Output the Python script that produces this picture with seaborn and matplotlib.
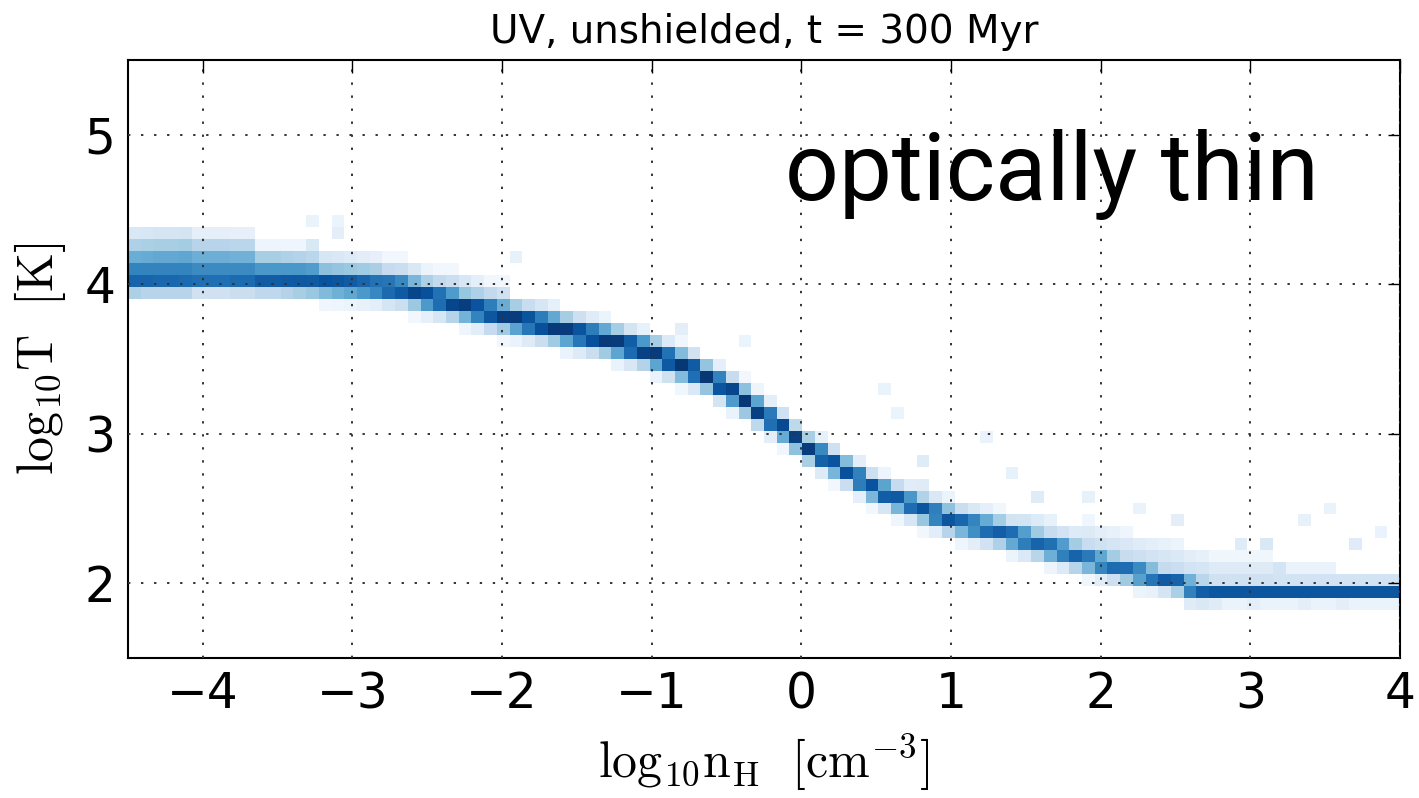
import numpy as np
import pandas as pd
import matplotlib
matplotlib.use("Agg")
import matplotlib.pyplot as plt
import seaborn as sns

# ---------------- data ----------------
# histogram grid: 100 density columns over [-4.5, 4], 50 temperature rows over [1.5, 5.5]
n_range = (-4.5, 4.0)
T_range = (1.5, 5.5)
n_bins = 100
T_bins = 50

# ridge (most populated) log T for each of the 100 density columns
ridge_T = [
    4.02, 4.025, 4.03, 4.03, 4.035, 4.04, 4.04, 4.04, 4.035, 4.035,
    4.03, 4.03, 4.025, 4.02, 4.015, 4.01, 4.005, 4.0, 3.993, 3.985,
    3.977, 3.968, 3.945, 3.92, 3.899, 3.877, 3.855, 3.832, 3.81, 3.788,
    3.768, 3.749, 3.729, 3.709, 3.689, 3.669, 3.649, 3.629, 3.609, 3.583,
    3.557, 3.529, 3.494, 3.46, 3.425, 3.38, 3.33, 3.28, 3.222, 3.155,
    3.098, 3.042, 2.972, 2.90, 2.852, 2.804, 2.753, 2.699, 2.645, 2.604,
    2.566, 2.529, 2.495, 2.461, 2.427, 2.404, 2.383, 2.362, 2.342, 2.317,
    2.291, 2.265, 2.239, 2.212, 2.184, 2.157, 2.131, 2.11, 2.088, 2.066,
    2.045, 2.025, 2.005, 1.97, 1.95, 1.95, 1.95, 1.95, 1.95, 1.95,
    1.95, 1.95, 1.95, 1.95, 1.95, 1.95, 1.95, 1.95, 1.95, 1.95,
]

# per group of 5 columns: ridge colour level / thickness (in rows), spread above / below
ridge_level   = [0.80, 0.80, 0.84, 0.88, 0.92, 0.95, 0.97, 0.97, 0.97, 0.97,
                 0.95, 0.90, 0.86, 0.82, 0.80, 0.78, 0.84, 0.88, 0.88, 0.88]
ridge_width   = [0.75, 0.75, 0.75, 0.75, 0.8, 0.8, 0.8, 0.8, 0.8, 0.75,
                 0.7, 0.7, 0.75, 0.75, 0.75, 0.7, 0.6, 0.5, 0.5, 0.5]
halo_up       = [0.34, 0.30, 0.22, 0.20, 0.18, 0.20, 0.16, 0.14, 0.12, 0.14,
                 0.14, 0.14, 0.16, 0.16, 0.20, 0.26, 0.28, 0.24, 0.18, 0.14]
halo_up_level = [0.68, 0.65, 0.60, 0.45, 0.40, 0.40, 0.35, 0.35, 0.30, 0.30,
                 0.25, 0.25, 0.25, 0.25, 0.28, 0.26, 0.24, 0.20, 0.16, 0.14]
halo_dn       = [0.08, 0.06, 0.04, 0.08, 0.08, 0.10, 0.08, 0.06, 0.08, 0.06,
                 0.06, 0.06, 0.06, 0.06, 0.08, 0.08, 0.06, 0.00, 0.00, 0.00]
halo_dn_level = [0.30, 0.25, 0.20, 0.15, 0.20, 0.25, 0.25, 0.20, 0.20, 0.15,
                 0.15, 0.15, 0.15, 0.15, 0.15, 0.10, 0.08, 0.00, 0.00, 0.00]

# isolated faint cells
stray_n     = [-3.3, -3.1, -3.1, -3.25, -1.93, -0.81, -0.38, 0.64, 0.55, 1.21, 1.44,
               0.84, 0.84, 1.41, 1.59, 1.93, 2.26, 2.53, 3.55, 3.38, 3.91, 2.62, 3.38, 3.65,
               2.95, 3.1, 3.7, 3.2, 2.8, 3.0]
stray_T     = [4.46, 4.36, 4.44, 4.30, 4.15, 3.71, 3.61, 3.14, 3.34, 2.96, 2.77,
               2.85, 2.69, 2.78, 2.57, 2.61, 2.48, 2.44, 2.49, 2.44, 2.34, 1.84, 1.86, 1.86,
               2.30, 2.22, 2.22, 2.14, 1.86, 1.86]
stray_level = [0.07, 0.10, 0.06, 0.15, 0.08, 0.10, 0.06, 0.06, 0.07, 0.07, 0.08,
               0.12, 0.12, 0.07, 0.12, 0.08, 0.07, 0.10, 0.07, 0.08, 0.07, 0.12, 0.10, 0.10,
               0.12, 0.15, 0.12, 0.18, 0.12, 0.10]

x_ticks = [-4, -3, -2, -1, 0, 1, 2, 3, 4]
y_ticks = [2, 3, 4, 5]

# ---------------- build the cell table ----------------
x_edges = np.linspace(n_range[0], n_range[1], n_bins + 1)
y_edges = np.linspace(T_range[0], T_range[1], T_bins + 1)
xc = 0.5 * (x_edges[:-1] + x_edges[1:])
yc = 0.5 * (y_edges[:-1] + y_edges[1:])
dy = y_edges[1] - y_edges[0]

W = np.zeros((n_bins, T_bins))
for i in range(n_bins):
    g = i // 5
    r = ridge_T[i]
    for j in range(T_bins):
        u = yc[j] - r
        d = abs(u) / dy
        w = ridge_level[g] * np.exp(-0.5 * (d / ridge_width[g]) ** 2)
        if 0 < u <= halo_up[g] + 0.04:
            frac = max(u - dy, 0) / max(halo_up[g] - dy, 0.02)
            w = max(w, halo_up_level[g] * max(1 - 0.85 * frac, 0.08))
        if 0 < -u <= halo_dn[g] + 0.02:
            w = max(w, halo_dn_level[g])
        W[i, j] = w
for sn, sT, sl in zip(stray_n, stray_T, stray_level):
    i = int(np.clip(np.searchsorted(x_edges, sn) - 1, 0, n_bins - 1))
    j = int(np.clip(np.searchsorted(y_edges, sT) - 1, 0, T_bins - 1))
    W[i, j] = max(W[i, j], sl)

ii, jj = np.nonzero(W > 0.03)
cells = pd.DataFrame({"n": xc[ii], "T": yc[jj], "w": W[ii, jj]})

# ---------------- plot ----------------
sns.set_theme(style="white")
plt.rcParams["font.family"] = ["DejaVu Sans"]
plt.rcParams["mathtext.fontset"] = "cm"
for key in ["text.color", "axes.labelcolor", "xtick.color", "ytick.color"]:
    plt.rcParams[key] = "black"

fig = plt.figure(figsize=(14.19, 7.98), dpi=100)
ax = fig.add_axes([128 / 1419, 140 / 798, 1272 / 1419, 598 / 798])

sns.histplot(data=cells, x="n", y="T", weights="w", bins=[x_edges, y_edges],
             cmap="Blues", vmin=0, vmax=1, ax=ax)

ax.set_xlim(*n_range)
ax.set_ylim(*T_range)
ax.set_xticks(x_ticks)
ax.set_yticks(y_ticks)
ax.set_xticklabels([("\u2212%d" % -v) if v < 0 else str(v) for v in x_ticks])
ax.tick_params(axis="both", which="major", direction="in", length=9, width=1,
               labelsize=35, top=True, right=True, color="black",
               labelcolor="black", pad=9)
for s in ax.spines.values():
    s.set_visible(True)
    s.set_color("black")
    s.set_linewidth(1.5)

ax.set_axisbelow(False)
ax.grid(True, color="#333333", linestyle=(0, (1.2, 5.5)), linewidth=1.4)

ax.set_xlabel(r"$\mathrm{log_{10}n_H\ \ [cm^{-3}]}$", fontsize=36, labelpad=10,
              color="black")
ax.set_ylabel(r"$\mathrm{log_{10}T\ \ [K]}$", fontsize=36, labelpad=12,
              color="black")
ax.set_title("UV, unshielded, t = 300 Myr", fontsize=28, pad=12, color="black")

fig.text(785 / 1419, 1 - 200 / 798, "optically thin", fontsize=68,
         family=["Roboto", "DejaVu Sans"], fontweight="normal",
         ha="left", va="baseline", color="black")

fig.savefig("out.png", dpi=100)
